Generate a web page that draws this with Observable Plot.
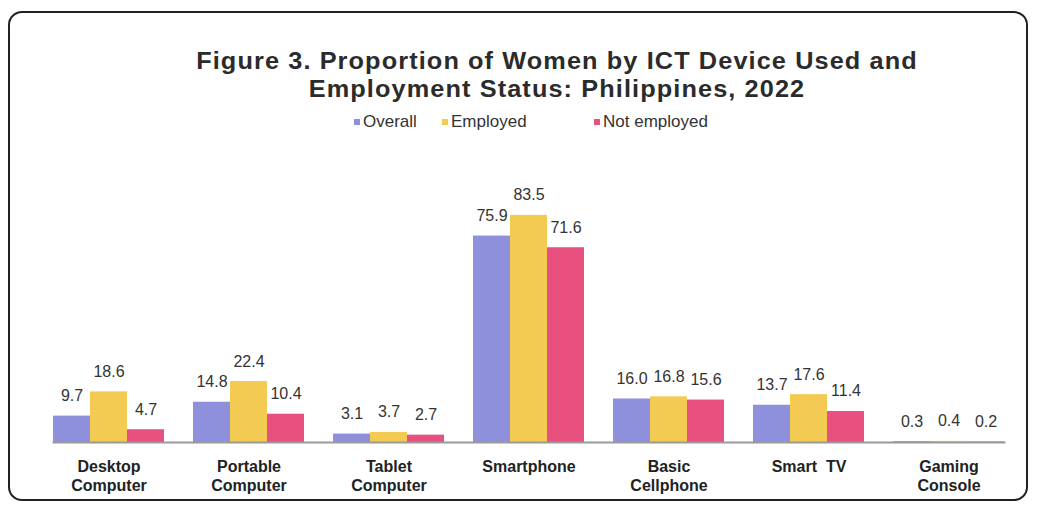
<!DOCTYPE html>
<html>
<head>
<meta charset="utf-8">
<script src="https://cdn.jsdelivr.net/npm/d3@7"></script>
<script src="https://cdn.jsdelivr.net/npm/@observablehq/plot@0.6"></script>
<style>
  html, body { margin: 0; padding: 0; background: #fff; }
  body { width: 1038px; height: 507px; position: relative; overflow: hidden; font-family: "Liberation Sans", Arial, sans-serif; }
  #box { position: absolute; left: 8px; top: 11px; width: 1020px; height: 490px; border: 2px solid #222; border-radius: 14px; box-sizing: border-box; }
  #title { position: absolute; left: 557px; top: 47px; transform: translateX(-50%) scaleX(1.1); white-space: nowrap; text-align: center; font-weight: bold; font-size: 23px; line-height: 28px; letter-spacing: 1px; color: #2b2b2b; }
  #legend { position: absolute; left: 354px; top: 112px; white-space: nowrap; font-size: 17px; color: #333; }
  #legend .item { display: inline-block; }
  #legend .sw { display: inline-block; width: 6px; height: 6px; margin-right: 3px; vertical-align: middle; position: relative; top: -1px; }
  #chart { position: absolute; left: 0; top: 140px; }
</style>
</head>
<body>
<div id="box"></div>
<div id="title">Figure 3. Proportion of Women by ICT Device Used and<br>Employment Status: Philippines, 2022</div>
<div id="legend"></div>
<div id="chart"></div>
<script>
const categories = ["Desktop\nComputer", "Portable\nComputer", "Tablet\nComputer", "Smartphone", "Basic\nCellphone", "Smart  TV", "Gaming\nConsole"];
const seriesNames = ["Overall", "Employed", "Not employed"];
const overall = [9.7, 14.8, 3.1, 75.9, 16.0, 13.7, 0.3];
const employed = [18.6, 22.4, 3.7, 83.5, 16.8, 17.6, 0.4];
const notEmployed = [4.7, 10.4, 2.7, 71.6, 15.6, 11.4, 0.2];
const colors = ["#8e90dc", "#f4cb52", "#e8507f"];

const seriesValues = [overall, employed, notEmployed];
const data = [];
categories.forEach((c, i) => {
  seriesNames.forEach((s, j) => {
    data.push({category: c, series: s, value: seriesValues[j][i]});
  });
});

// legend
const legendWidths = [88, 152, null];
const legend = d3.select("#legend");
seriesNames.forEach((s, j) => {
  const item = legend.append("span").attr("class", "item");
  if (legendWidths[j]) item.style("width", legendWidths[j] + "px");
  item.append("span").attr("class", "sw").style("background", colors[j]);
  item.append("span").text(s);
});

const chart = Plot.plot({
  width: 1038,
  height: 360,
  marginTop: 30,
  marginBottom: 58,
  marginLeft: 36,
  marginRight: 18,
  style: {fontFamily: "Liberation Sans, Arial, sans-serif", background: "transparent"},
  fx: {domain: categories, paddingInner: 0.21, paddingOuter: 0.1, label: null},
  x: {domain: seriesNames, padding: 0, axis: null},
  y: {domain: [0, 100], axis: null},
  color: {domain: seriesNames, range: colors},
  marks: [
    Plot.barY(data, {fx: "category", x: "series", y: "value", fill: "series"}),
    Plot.text(data, {fx: "category", x: "series", y: "value", text: d => d.value.toFixed(1), lineAnchor: "bottom", dy: -15, fontSize: 16, fill: "#333"}),
    Plot.frame({anchor: "bottom", facet: "super", stroke: "#9a9a9a", strokeWidth: 2}),
    Plot.axisFx({anchor: "bottom", tickSize: 0, tickPadding: 16, fontSize: 16, fontWeight: "bold", fill: "#222", lineHeight: 1.2, label: null, style: {letterSpacing: "0.8px"}})
  ]
});
document.getElementById("chart").appendChild(chart);
</script>
</body>
</html>
